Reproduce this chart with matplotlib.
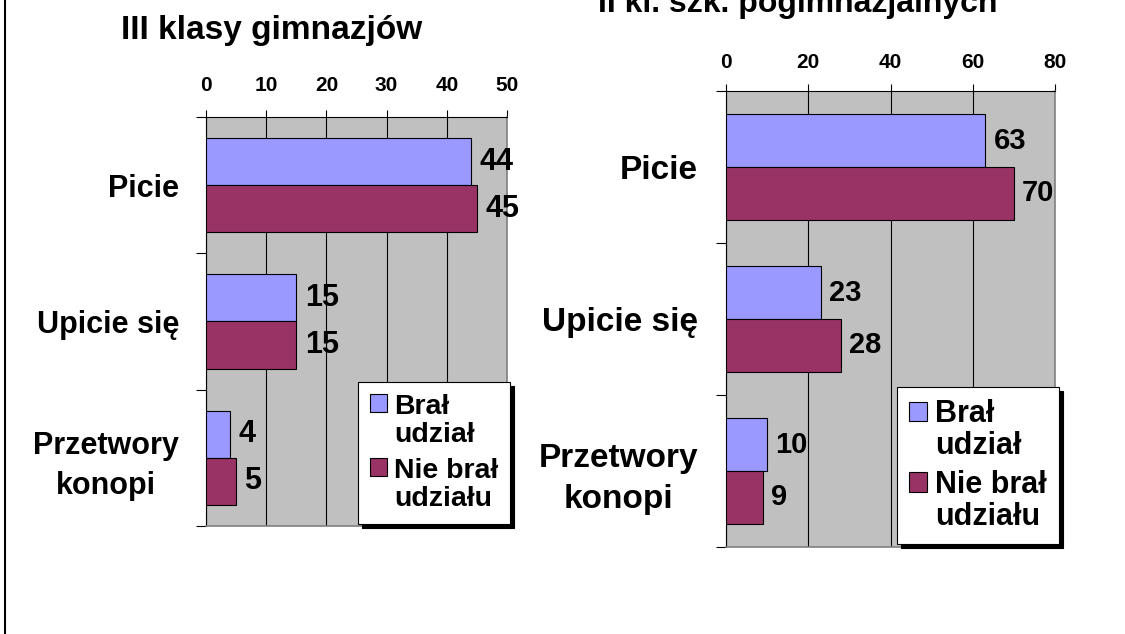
import numpy as np
import matplotlib; matplotlib.use('Agg')
import matplotlib.pyplot as plt
from matplotlib.patches import Patch, Rectangle
from matplotlib.legend_handler import HandlerPatch
from matplotlib.lines import Line2D

plt.rcParams['font.family'] = ['Liberation Sans', 'DejaVu Sans']
plt.rcParams['font.weight'] = 'bold'

# data
categories = ['Picie', 'Upicie się', 'Przetwory\nkonopi']
series_names = ['Brał\nudział', 'Nie brał\nudziału']
gim_bral = [44, 15, 4]
gim_nie = [45, 15, 5]
pogim_bral = [63, 23, 10]
pogim_nie = [70, 28, 9]
gim_ticks = [0, 10, 20, 30, 40, 50]
pogim_ticks = [0, 20, 40, 60, 80]
titles = ['III klasy gimnazjów', 'II kl. szk. pogimnazjalnych']

C_BRAL, C_NIE, GREY = '#9999FF', '#993366', '#C0C0C0'
W, H = 1125, 634
fig = plt.figure(figsize=(W / 100, H / 100), dpi=100)


def px(x0, y0, x1, y1):
    return [x0 / W, 1 - y1 / H, (x1 - x0) / W, (y1 - y0) / H]


class TopSquare(HandlerPatch):
    # put the legend square next to the first line of a two-line label
    def __init__(self, lift, **kw):
        super().__init__(**kw); self.lift = lift

    def create_artists(self, legend, orig_handle, xdescent, ydescent, width, height, fontsize, trans):
        return [Rectangle((-xdescent, -ydescent + self.lift * fontsize), width, height,
                          facecolor=orig_handle.get_facecolor(), edgecolor='black', lw=0.8, transform=trans)]


def panel(rect, bral, nie, ticks, cat_fs, val_fs, leg_fs, tick_pad, cat_pad, anchor, lsp, bpad):
    ax = fig.add_axes(rect)
    ax.set_facecolor(GREY)
    y = np.arange(len(categories)); h = 0.347
    ax.barh(y - h / 2, bral, height=h, color=C_BRAL, edgecolor='black', lw=0.8, zorder=3)
    ax.barh(y + h / 2, nie, height=h, color=C_NIE, edgecolor='black', lw=0.8, zorder=3)
    for vals, yy in [(bral, y - h / 2), (nie, y + h / 2)]:
        for v, yv in zip(vals, yy):
            ax.annotate(f'{v}', (v, yv), xytext=(6, 0), textcoords='offset points', va='center', ha='left',
                        fontsize=val_fs, annotation_clip=False, zorder=4)
    ax.set_xlim(0, ticks[-1]); ax.set_xticks(ticks); ax.xaxis.tick_top()
    ax.tick_params(axis='x', top=True, bottom=False, direction='out', length=5, width=0.8, labelsize=15, pad=tick_pad)
    ax.grid(axis='x', color='black', lw=0.8); ax.set_axisbelow(True)
    ax.set_ylim(len(categories) - 0.5, -0.5)
    ax.set_yticks(np.arange(len(categories) + 1) - 0.5); ax.set_yticklabels([])
    ax.set_yticks(y, minor=True)
    ax.set_yticklabels(categories, minor=True, fontsize=cat_fs, multialignment='center', linespacing=1.4)
    ax.tick_params(axis='y', which='major', direction='out', length=7, width=0.8)
    ax.tick_params(axis='y', which='minor', length=0, pad=cat_pad)
    for s in ['top', 'left']: ax.spines[s].set_linewidth(0.8)
    for s in ['right', 'bottom']: ax.spines[s].set_color('#808080'); ax.spines[s].set_linewidth(1.2)
    handles = [Patch(facecolor=C_BRAL), Patch(facecolor=C_NIE)]
    leg = ax.legend(handles, series_names, loc='lower right', bbox_to_anchor=anchor, borderaxespad=0,
                    fontsize=leg_fs, fancybox=False, edgecolor='black', framealpha=1,
                    shadow={'ox': 3, 'oy': -3, 'facecolor': 'black', 'edgecolor': 'black', 'alpha': 1},
                    handlelength=0.6, handleheight=0.6, handletextpad=0.25, borderpad=bpad, labelspacing=lsp,
                    handler_map={Patch: TopSquare(0.63)})
    for t in leg.get_texts(): t.set_linespacing(1.08)
    leg.get_frame().set_linewidth(0.8)
    return ax


panel(px(206, 117, 507, 526), gim_bral, gim_nie, gim_ticks, 22, 22, 20.5, 11, 19.5, (1.01, 0.005), 0.37, 0.42)
panel(px(726, 91, 1055, 547), pogim_bral, pogim_nie, pogim_ticks, 24, 21, 22, 9, 20, (1.012, 0.007), 0.28, 0.4)

fig.text(272 / W, 1 - 39 / H, titles[0], ha='center', va='baseline', fontsize=24)
fig.text(798 / W, 1 - 12 / H, titles[1], ha='center', va='baseline', fontsize=23)
fig.add_artist(Line2D([5 / W, 5 / W], [0, 1], color='black', lw=1.5, transform=fig.transFigure))

fig.savefig('out.png', dpi=100, facecolor='white')
